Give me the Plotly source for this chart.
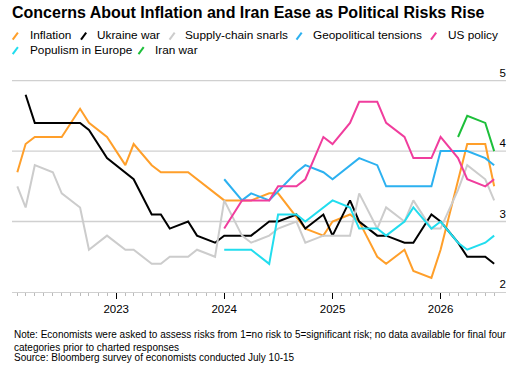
import plotly.graph_objects as go

# ---------------- data ----------------
inflation_dates = ["2022-02", "2022-03", "2022-04", "2022-07", "2022-09", "2022-10", "2022-12",
                   "2023-02", "2023-03", "2023-05", "2023-06", "2023-09", "2024-01", "2024-04",
                   "2024-06", "2024-07", "2024-10", "2024-12", "2025-01", "2025-03", "2025-04",
                   "2025-06", "2025-07", "2025-09", "2025-10", "2025-12", "2026-01", "2026-04",
                   "2026-06", "2026-07"]
inflation = [3.7, 4.1, 4.2, 4.2, 4.6, 4.4, 4.2, 3.8, 4.1, 3.8, 3.7, 3.7, 3.3, 3.3, 3.4, 3.4,
             2.9, 2.8, 3.0, 3.1, 3.0, 2.5, 2.4, 2.6, 2.3, 2.2, 2.6, 4.1, 4.1, 3.5]

ukraine_dates = ["2022-03", "2022-04", "2022-09", "2022-10", "2022-12", "2023-03", "2023-05",
                 "2023-06", "2023-07", "2023-09", "2023-10", "2023-12", "2024-01", "2024-04",
                 "2024-06", "2024-07", "2024-09", "2024-10", "2024-12", "2025-01", "2025-03",
                 "2025-04", "2025-06", "2025-07", "2025-09", "2025-10", "2025-12", "2026-01",
                 "2026-03", "2026-04", "2026-06", "2026-07"]
ukraine = [4.8, 4.4, 4.4, 4.3, 3.9, 3.6, 3.1, 3.1, 2.9, 3.0, 2.8, 2.7, 2.8, 2.8, 3.0, 3.0,
           3.1, 2.9, 3.1, 2.8, 3.3, 3.0, 2.8, 2.8, 2.7, 2.7, 3.1, 3.0, 2.7, 2.5, 2.5, 2.4]

supply_dates = ["2022-02", "2022-03", "2022-04", "2022-06", "2022-07", "2022-09", "2022-10",
                "2022-12", "2023-02", "2023-03", "2023-05", "2023-06", "2023-07", "2023-09",
                "2023-10", "2023-12", "2024-01", "2024-03", "2024-04", "2024-06", "2024-07",
                "2024-09", "2024-10", "2024-12", "2025-03", "2025-04", "2025-06", "2025-07",
                "2025-09", "2025-10", "2025-12", "2026-01", "2026-03", "2026-04", "2026-06",
                "2026-07"]
supply = [3.5, 3.2, 3.8, 3.7, 3.4, 3.2, 2.6, 2.8, 2.6, 2.6, 2.4, 2.4, 2.5, 2.5, 2.6, 2.5,
          3.3, 2.8, 2.7, 2.8, 2.9, 3.0, 2.7, 2.8, 2.8, 3.4, 2.9, 3.2, 3.0, 3.3, 2.9, 2.9,
          3.45, 3.8, 3.6, 3.3]

geo_dates = ["2024-01", "2024-03", "2024-04", "2024-06", "2024-09", "2024-10", "2024-12",
             "2025-01", "2025-04", "2025-06", "2025-07", "2025-12", "2026-01", "2026-04",
             "2026-06", "2026-07"]
geo = [3.6, 3.3, 3.4, 3.3, 3.7, 3.8, 3.7, 3.6, 3.9, 3.8, 3.5, 3.5, 4.0, 4.0, 3.9, 3.8]

us_dates = ["2024-01", "2024-03", "2024-06", "2024-07", "2024-09", "2024-10", "2024-12",
            "2025-01", "2025-03", "2025-04", "2025-06", "2025-07", "2025-09", "2025-10",
            "2025-12", "2026-01", "2026-03", "2026-04", "2026-06", "2026-07"]
us_policy = [2.9, 3.3, 3.3, 3.5, 3.5, 3.6, 4.2, 4.1, 4.4, 4.7, 4.7, 4.4, 4.2, 3.9, 3.9,
             4.2, 3.9, 3.6, 3.5, 3.6]

populism_dates = ["2024-01", "2024-04", "2024-06", "2024-07", "2024-09", "2024-10", "2025-01",
                  "2025-03", "2025-04", "2025-06", "2025-07", "2025-09", "2025-10", "2025-12",
                  "2026-01", "2026-03", "2026-04", "2026-06", "2026-07"]
populism = [2.6, 2.6, 2.4, 3.1, 3.1, 3.0, 3.3, 3.2, 2.9, 2.9, 2.8, 3.0, 3.2, 2.9, 3.0, 2.7,
            2.6, 2.7, 2.8]

iran_dates = ["2026-03", "2026-04", "2026-06", "2026-07"]
iran = [4.2, 4.5, 4.4, 4.0]

series_names = ["Inflation", "Ukraine war", "Supply-chain snarls", "Geopolitical tensions",
                "US policy", "Populism in Europe", "Iran war"]
series_dates = [inflation_dates, ukraine_dates, supply_dates, geo_dates, us_dates,
                populism_dates, iran_dates]
series_values = [inflation, ukraine, supply, geo, us_policy, populism, iran]
series_colors = ["#FF9F2A", "#000000", "#CCCCCC", "#2CB1F0", "#F03D9D", "#22DDEE", "#1DBF3A"]

y_ticks = [2, 3, 4, 5]
x_tick_years = ["2023-01-01", "2024-01-01", "2025-01-01", "2026-01-01"]

title_text = "Concerns About Inflation and Iran Ease as Political Risks Rise"
note_text = ("Note: Economists were asked to assess risks from 1=no risk to 5=significant risk; "
             "no data available for final four<br>categories prior to charted responses")
source_text = "Source: Bloomberg survey of economists conducted July 10-15"

# ---------------- layout geometry ----------------
W, H = 523, 370
Y_MIN, Y_MAX = 2, 5.25
L, R, B = 12, 506, 292
T = 80.7 - (Y_MAX - 5) * (B - 80.7) / 3.0


def px2x(px):
    return (px - L) / (R - L)


def py2y(py):
    return (B - py) / (B - T)


FONT = "Liberation Sans, Arial, sans-serif"
GRID = "#d0d0d0"

fig = go.Figure()

# horizontal gridlines at the y tick values (drawn beneath the series)
grid_x, grid_y = [], []
for yv in y_ticks[1:]:
    grid_x += ["2022-01-14", "2026-08-10", None]
    grid_y += [yv, yv, None]
fig.add_trace(go.Scatter(x=grid_x, y=grid_y, mode="lines", line=dict(color=GRID, width=1.4),
                         showlegend=False, hoverinfo="skip", connectgaps=False))

for name, d, v, c in zip(series_names, series_dates, series_values, series_colors):
    fig.add_trace(go.Scatter(x=[s + "-01" for s in d], y=v, mode="lines", name=name,
                             line=dict(color=c, width=2), connectgaps=True,
                             showlegend=False, hoverinfo="skip"))

shapes = []
annotations = []

# custom legend with diagonal icons
legend_pos = [(12.7, 28.3, 36), (81, 95, 36), (169.5, 182.7, 36), (296.5, 310.7, 36),
              (431, 446, 36), (12.7, 28.3, 50.5), (138.5, 153.3, 50.5)]
for name, c, (ix, tx, cy) in zip(series_names, series_colors, legend_pos):
    shapes.append(dict(type="line", xref="paper", yref="paper",
                       x0=px2x(ix), y0=py2y(cy + 3.8), x1=px2x(ix + 5.2), y1=py2y(cy - 3.2),
                       line=dict(color=c, width=2)))
    annotations.append(dict(text=name, xref="paper", yref="paper", x=px2x(tx), y=py2y(cy - 0.5),
                            xanchor="left", yanchor="middle", showarrow=False,
                            font=dict(family=FONT, size=11.8, color="#000")))

annotations.append(dict(text=note_text, xref="paper", yref="paper", x=px2x(12),
                        y=py2y(326.5), xanchor="left", yanchor="top", align="left",
                        showarrow=False, font=dict(family=FONT, size=10, color="#000")))
annotations.append(dict(text=source_text, xref="paper", yref="paper", x=px2x(12),
                        y=py2y(357.5), xanchor="left", yanchor="middle", align="left",
                        showarrow=False, font=dict(family=FONT, size=10, color="#000")))

fig.update_layout(
    width=W, height=H,
    margin=dict(l=L, r=W - R, t=T, b=H - B, pad=0),
    paper_bgcolor="white", plot_bgcolor="white",
    title=dict(text="<b>" + title_text + "</b>", x=12 / W, xanchor="left",
               xref="container", y=1 - 6.5 / H, yref="container", yanchor="top",
               font=dict(family=FONT, size=16, color="#000")),
    shapes=shapes, annotations=annotations,
    showlegend=False,
)

fig.update_xaxes(
    type="date", range=["2022-01-14", "2026-08-10"],
    tickvals=x_tick_years, tickformat="%Y",
    ticks="outside", ticklen=6, tickcolor="#000", tickwidth=1,
    showline=True, linecolor=GRID, linewidth=1.4,
    showgrid=False, zeroline=False,
    tickfont=dict(family=FONT, size=11.5, color="#000"),
    minor=dict(dtick="M1", tick0="2022-01-01", ticks="outside", ticklen=3,
               tickcolor="#bbbbbb", showgrid=False),
)
fig.update_yaxes(
    range=[Y_MIN, Y_MAX], tickvals=y_ticks, side="right",
    ticklabelposition="inside top", ticks="", ticklabelstandoff=-3,
    showgrid=False, zeroline=False, showline=False,
    tickfont=dict(family=FONT, size=11.5, color="#000"),
)

fig.write_html("out.html")
